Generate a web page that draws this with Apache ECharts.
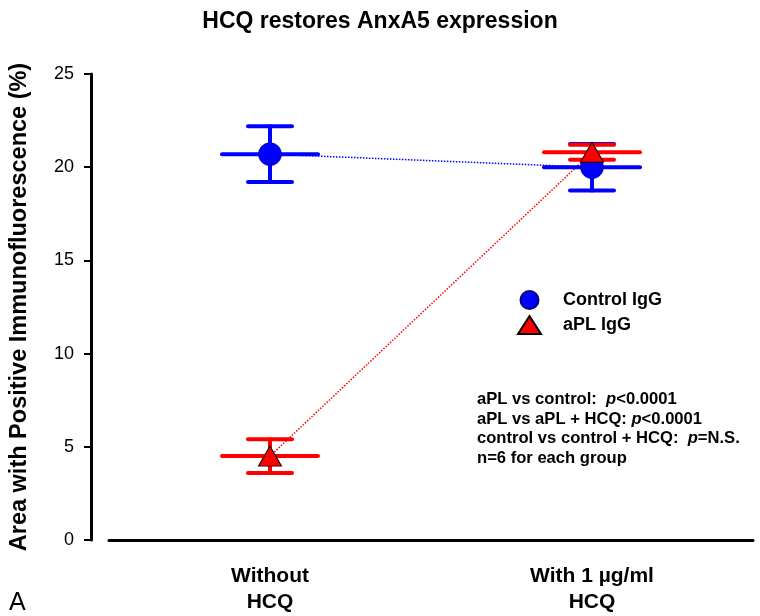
<!DOCTYPE html>
<html>
<head>
<meta charset="utf-8">
<script src="https://cdn.jsdelivr.net/npm/echarts@6/dist/echarts.min.js"></script>
<style>html,body{margin:0;padding:0;background:#fff}#c{width:760px;height:616px}</style>
</head>
<body>
<div id="c"></div>
<script>
var categories = ['Without\nHCQ', 'With 1 µg/ml\nHCQ'];
var controlMean = [20.7, 20.0];
var controlErr = [1.5, 1.25];
var aplMean = [4.5, 20.8];
var aplErr = [0.9, 0.4];
var yTicks = [0, 5, 10, 15, 20, 25];

var chart = echarts.init(document.getElementById('c'), null, {renderer: 'canvas'});
var FONT = 'Liberation Sans, Arial, sans-serif';

function errData(mean, err) {
  return mean.map(function (m, i) { return [i, m, m - err[i], m + err[i]]; });
}
function errSeries(mean, err, color) {
  return {
    type: 'custom',
    data: errData(mean, err),
    z: 2,
    renderItem: function (params, api) {
      var x = api.value(0);
      var m = api.coord([x, api.value(1)]);
      var lo = api.coord([x, api.value(2)]);
      var hi = api.coord([x, api.value(3)]);
      var cap = 22, half = 48;
      var st = {stroke: color, lineWidth: 4, lineCap: 'round'};
      return {
        type: 'group',
        children: [
          {type: 'line', shape: {x1: m[0], y1: lo[1], x2: m[0], y2: hi[1]}, style: st},
          {type: 'line', shape: {x1: m[0] - cap, y1: lo[1], x2: m[0] + cap, y2: lo[1]}, style: st},
          {type: 'line', shape: {x1: m[0] - cap, y1: hi[1], x2: m[0] + cap, y2: hi[1]}, style: st},
          {type: 'line', shape: {x1: m[0] - half, y1: m[1], x2: m[0] + half, y2: m[1]}, style: st}
        ]
      };
    }
  };
}

var option = {
  animation: false,
  backgroundColor: '#fff',
  title: {
    text: 'HCQ restores AnxA5 expression',
    left: 'center', top: 5,
    textStyle: {fontFamily: FONT, fontWeight: 'bold', fontSize: 23, color: '#000'}
  },
  legend: {
    data: ['Control IgG', 'aPL IgG'],
    orient: 'vertical',
    left: 517, top: 290, padding: 0,
    itemWidth: 23, itemHeight: 18, itemGap: 5,
    textStyle: {fontFamily: FONT, fontWeight: 'bold', fontSize: 18, color: '#000', padding: [0, 0, 0, 17]}
  },
  grid: {left: 107, right: 7, top: 74, bottom: 76, containLabel: false},
  xAxis: {
    type: 'category',
    data: categories,
    boundaryGap: true,
    axisLine: {lineStyle: {color: '#000', width: 3}},
    axisTick: {alignWithLabel: true, length: 8, lineStyle: {color: '#000', width: 2}},
    axisLabel: {
      margin: 23, lineHeight: 26, color: '#000',
      fontFamily: FONT, fontWeight: 'bold', fontSize: 21
    },
    splitLine: {show: false}
  },
  yAxis: {
    type: 'value',
    min: yTicks[0], max: yTicks[yTicks.length - 1], interval: 5,
    offset: 18,
    name: 'Area with Positive Immunofluorescence (%)',
    nameLocation: 'middle', nameGap: 59,
    nameTextStyle: {fontFamily: FONT, fontWeight: 'bold', fontSize: 23.5, color: '#000'},
    axisLine: {show: true, lineStyle: {color: '#000', width: 3}},
    axisTick: {show: true, length: 7, lineStyle: {color: '#000', width: 2}},
    axisLabel: {margin: 17, color: '#000', fontFamily: FONT, fontSize: 18},
    splitLine: {show: false}
  },
  series: [
    {
      type: 'line', data: controlMean, symbol: 'none', z: 1,
      lineStyle: {color: '#0000ff', width: 1.5, type: 'dotted'}, silent: true
    },
    {
      type: 'line', data: aplMean, symbol: 'none', z: 1,
      lineStyle: {color: '#ff0000', width: 1.5, type: 'dotted'}, silent: true
    },
    errSeries(controlMean, controlErr, '#0000ff'),
    errSeries(aplMean, aplErr, '#ff0000'),
    {
      name: 'Control IgG', type: 'scatter', data: controlMean, z: 3,
      symbol: 'circle', symbolSize: 23,
      itemStyle: {color: '#0000ff', borderColor: '#00007a', borderWidth: 0.6, opacity: 1}
    },
    {
      name: 'aPL IgG', type: 'scatter', data: aplMean, z: 4,
      symbol: 'triangle', symbolSize: [23, 20],
      itemStyle: {color: '#ff0000', borderColor: '#000', borderWidth: 1, opacity: 1}
    }
  ],
  graphic: [
    {
      type: 'text', left: 477, top: 390, z: 10,
      style: {
        text: 'aPL vs control:  {i|p}<0.0001\naPL vs aPL + HCQ: {i|p}<0.0001\ncontrol vs control + HCQ:  {i|p}=N.S.\nn=6 for each group',
        font: 'bold 16.6px ' + FONT, fill: '#000', lineHeight: 19.5,
        rich: {i: {fontStyle: 'italic', fontWeight: 'bold', fontSize: 16.6, fontFamily: FONT, fill: '#000', lineHeight: 19.5}}
      }
    },
    {
      type: 'text', left: 9, top: 591, z: 10,
      style: {text: 'A', font: '25px ' + FONT, fill: '#000'}
    }
  ]
};
chart.setOption(option);
</script>
</body>
</html>
